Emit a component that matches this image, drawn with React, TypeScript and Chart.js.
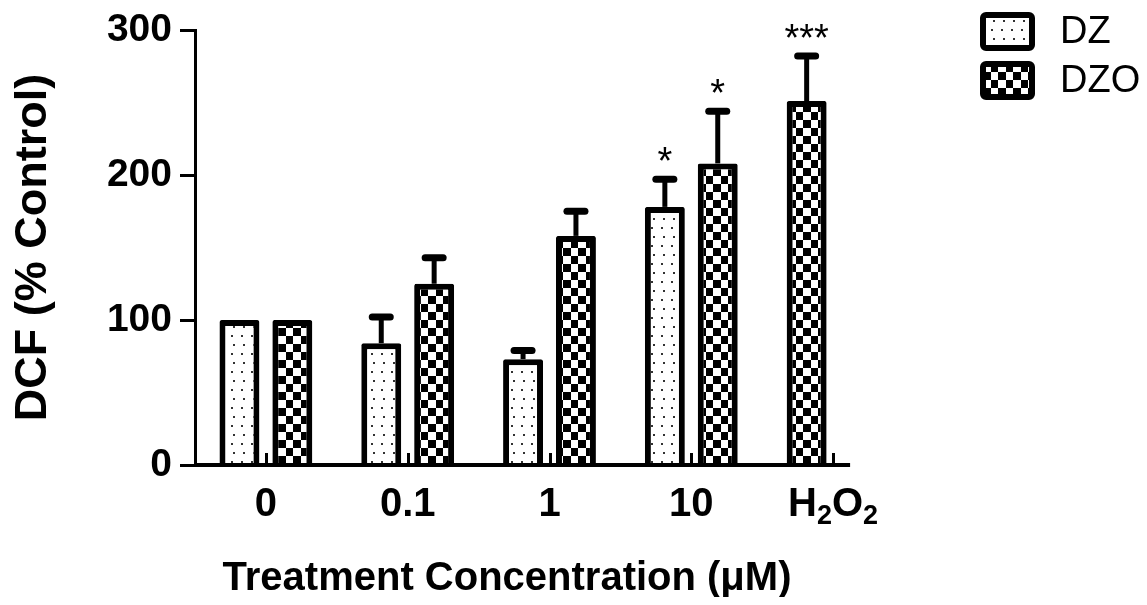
import React, { useEffect, useRef } from "react";
import { Chart, registerables } from "chart.js";

Chart.register(...registerables);

// ---- data ----
const categories = ["0", "0.1", "1", "10", "H₂O₂"];
const seriesNames = ["DZ", "DZO", "H₂O₂"];
const dzValues = [100, 84, 73, 178, null];
const dzErrors = [0, 18, 6, 19, 0];
const dzoValues = [100, 125, 158, 208, null];
const dzoErrors = [0, 18, 17, 36, 0];
const h2o2Values = [null, null, null, null, 251];
const h2o2Errors = [0, 0, 0, 0, 31];
const dzMarks = ["", "", "", "*", ""];
const dzoMarks = ["", "", "", "*", ""];
const h2o2Marks = ["", "", "", "", "***"];
const yTickValues = [0, 100, 200, 300];
const yTitle = "DCF (% Control)";
const xTitle = "Treatment Concentration (μM)";
const legendNames = ["DZ", "DZO"];

const valueSets = [dzValues, dzoValues, h2o2Values];
const errorSets = [dzErrors, dzoErrors, h2o2Errors];
const markSets = [dzMarks, dzoMarks, h2o2Marks];

const FONT = "'Liberation Sans', Arial, sans-serif";
const SUBS = "₀₁₂₃₄₅₆₇₈₉";

function makeDots(): CanvasPattern | string {
  const c = document.createElement("canvas");
  c.width = 10;
  c.height = 18;
  const g = c.getContext("2d");
  if (!g) return "#fff";
  g.fillStyle = "#fff";
  g.fillRect(0, 0, 10, 18);
  g.fillStyle = "#333";
  g.fillRect(3, 3, 2, 2);
  g.fillRect(5, 12, 2, 2);
  return g.createPattern(c, "repeat") || "#fff";
}

function makeChecker(): CanvasPattern | string {
  const c = document.createElement("canvas");
  c.width = 15;
  c.height = 16;
  const g = c.getContext("2d");
  if (!g) return "#888";
  g.fillStyle = "#fff";
  g.fillRect(0, 0, 15, 16);
  g.fillStyle = "#000";
  g.fillRect(0, 0, 8, 8);
  g.fillRect(8, 8, 7, 8);
  return g.createPattern(c, "repeat") || "#888";
}

// draw a label where unicode subscript digits are drawn as smaller, lowered digits
function drawSubLabel(ctx: CanvasRenderingContext2D, text: string, cx: number, cy: number, size: number) {
  const parts: { t: string; sub: boolean }[] = [];
  for (const ch of text) {
    const k = SUBS.indexOf(ch);
    if (k >= 0) parts.push({ t: String(k), sub: true });
    else parts.push({ t: ch, sub: false });
  }
  const subSize = Math.round(size * 0.68);
  let total = 0;
  const widths = parts.map((p) => {
    ctx.font = `bold ${p.sub ? subSize : size}px ${FONT}`;
    const w = ctx.measureText(p.t).width;
    total += w;
    return w;
  });
  let x = cx - total / 2;
  ctx.textAlign = "left";
  ctx.textBaseline = "alphabetic";
  const base = cy + size * 0.36;
  parts.forEach((p, i) => {
    ctx.font = `bold ${p.sub ? subSize : size}px ${FONT}`;
    ctx.fillText(p.t, x, p.sub ? base + size * 0.2 : base);
    x += widths[i];
  });
}

const overlayPlugin = {
  id: "overlay",
  afterDatasetsDraw(chart: any) {
    const ctx = chart.ctx as CanvasRenderingContext2D;
    const xs = chart.scales.x;
    const ys = chart.scales.y;
    const area = chart.chartArea;
    ctx.save();
    ctx.strokeStyle = "#000";
    ctx.fillStyle = "#000";
    // x axis line
    ctx.lineWidth = 4;
    ctx.beginPath();
    ctx.moveTo(area.left - 1, area.bottom);
    ctx.lineTo(xs.getPixelForValue(categories.length - 1) + 17, area.bottom);
    ctx.stroke();
    // inward category ticks
    ctx.lineWidth = 3;
    categories.forEach((_, i) => {
      const px = Math.round(xs.getPixelForValue(i)) + 0.5;
      ctx.beginPath();
      ctx.moveTo(px, area.bottom);
      ctx.lineTo(px, area.bottom - 12);
      ctx.stroke();
    });
    // error bars and significance marks
    valueSets.forEach((vals, di) => {
      const meta = chart.getDatasetMeta(di);
      meta.data.forEach((el: any, j: number) => {
        const v = vals[j];
        if (v === null || v === undefined) return;
        const e = errorSets[di][j] || 0;
        const top = ys.getPixelForValue(v + e);
        if (e > 0) {
          ctx.lineCap = "butt";
          ctx.lineWidth = 5;
          ctx.beginPath();
          ctx.moveTo(el.x, el.y);
          ctx.lineTo(el.x, top);
          ctx.stroke();
          ctx.lineCap = "round";
          ctx.lineWidth = 7;
          ctx.beginPath();
          ctx.moveTo(el.x - 9, top);
          ctx.lineTo(el.x + 9, top);
          ctx.stroke();
        }
        const m = markSets[di][j];
        if (m) {
          ctx.font = `38px ${FONT}`;
          ctx.textAlign = "center";
          ctx.textBaseline = "middle";
          ctx.fillText(m, el.x, top - 16);
        }
      });
    });
    // x tick labels
    categories.forEach((lab, i) => {
      drawSubLabel(ctx, lab, xs.getPixelForValue(i), area.bottom + 37, 40);
    });
    ctx.restore();
  },
  afterDraw(chart: any) {
    const ctx = chart.ctx as CanvasRenderingContext2D;
    const area = chart.chartArea;
    ctx.save();
    // x axis title
    ctx.fillStyle = "#000";
    ctx.font = `bold 40px ${FONT}`;
    ctx.textAlign = "center";
    ctx.textBaseline = "middle";
    ctx.fillText(xTitle, area.left + 312, 571);
    // legend
    legendNames.forEach((name, i) => {
      const ds = chart.data.datasets[i];
      const bx = 975;
      const by = 7 + i * 49;
      const bw = 49;
      const bh = 33;
      ctx.fillStyle = ds.backgroundColor;
      ctx.fillRect(bx, by, bw, bh);
      ctx.lineWidth = 6;
      ctx.strokeStyle = "#000";
      ctx.beginPath();
      (ctx as any).roundRect ? (ctx as any).roundRect(bx, by, bw, bh, 3) : ctx.rect(bx, by, bw, bh);
      ctx.stroke();
      ctx.fillStyle = "#000";
      ctx.font = `38px ${FONT}`;
      ctx.textAlign = "left";
      ctx.textBaseline = "middle";
      ctx.fillText(name, 1052, by + bh / 2 + 1);
    });
    ctx.restore();
  },
};

export default function App() {
  const ref = useRef<HTMLCanvasElement | null>(null);
  useEffect(() => {
    if (!ref.current) return;
    const dots = makeDots();
    const checker = makeChecker();
    const common = {
      borderColor: "#000",
      borderWidth: 6,
      borderSkipped: "start" as const,
      borderRadius: 2,
      categoryPercentage: 0.746,
      barPercentage: 0.755,
    };
    const chart = new Chart(ref.current, {
      type: "bar",
      data: {
        labels: categories,
        datasets: [
          { ...common, label: seriesNames[0], data: dzValues as any, backgroundColor: dots as any, stack: "left" },
          { ...common, label: seriesNames[1], data: dzoValues as any, backgroundColor: checker as any, stack: "right" },
          { ...common, label: seriesNames[2], data: h2o2Values as any, backgroundColor: checker as any, stack: "left" },
        ],
      },
      options: {
        animation: false,
        responsive: true,
        maintainAspectRatio: false,
        layout: { padding: { left: 0, top: 22, right: 235, bottom: 0 } },
        plugins: { legend: { display: false }, tooltip: { enabled: false } },
        scales: {
          x: {
            grid: { display: false, drawTicks: false },
            border: { display: false },
            ticks: { display: false },
            afterFit: (s: any) => {
              s.height = 132;
              s.paddingLeft = 0;
              s.paddingRight = 0;
            },
          },
          y: {
            min: 0,
            max: 300,
            afterBuildTicks: (s: any) => {
              s.ticks = yTickValues.map((v) => ({ value: v }));
            },
            grid: { drawOnChartArea: false, drawTicks: true, tickLength: 15, lineWidth: 3, color: "#000" },
            border: { display: true, color: "#000", width: 3 },
            ticks: {
              color: "#000",
              font: { family: FONT, weight: "bold", size: 39, lineHeight: 1 },
              padding: 8,
            },
            title: {
              display: true,
              text: yTitle,
              color: "#000",
              font: { family: FONT, weight: "bold", size: 45, lineHeight: 1 },
              padding: { top: 3, bottom: 0 },
            },
            afterFit: (s: any) => {
              s.width = 187;
              s.paddingTop = 0;
              s.paddingBottom = 0;
            },
          },
        },
      },
      plugins: [overlayPlugin],
    });
    return () => chart.destroy();
  }, []);
  return (
    <div style={{ position: "relative", width: 1131, height: 589 }}>
      <canvas ref={ref} />
    </div>
  );
}
